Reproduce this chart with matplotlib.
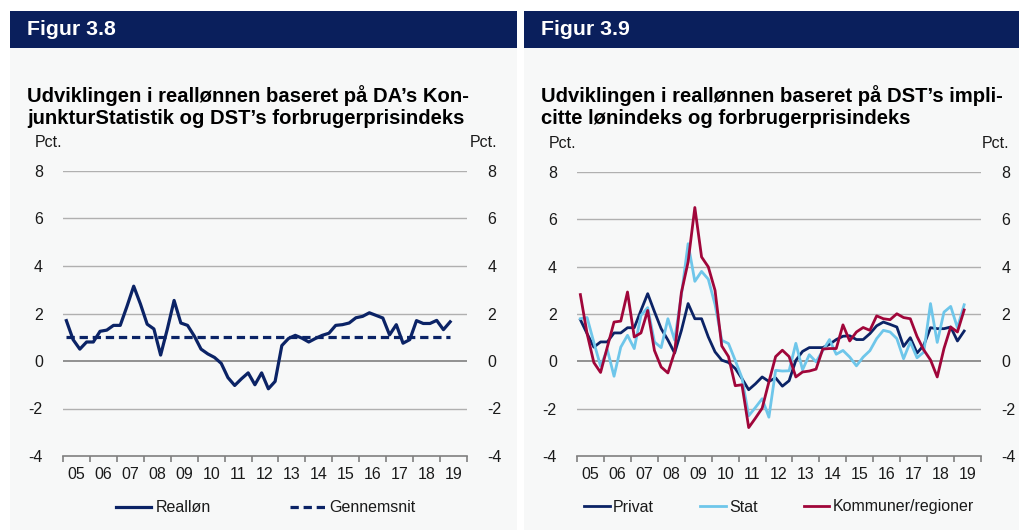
import matplotlib
matplotlib.use("Agg")
import matplotlib.pyplot as plt
from matplotlib.patches import Rectangle
import numpy as np

plt.rcParams['font.family'] = ['Liberation Sans', 'DejaVu Sans']

# ---------------- data (quarterly, 2005Q1 - 2019Q2) ----------------
year_labels = ['05', '06', '07', '08', '09', '10', '11', '12', '13', '14',
               '15', '16', '17', '18', '19']

realloen = [1.7, 0.9, 0.5, 0.8, 0.8, 1.25, 1.3, 1.5, 1.5, 2.3, 3.15, 2.4,
            1.55, 1.35, 0.25, 1.35, 2.55, 1.6, 1.5, 1.05, 0.5, 0.3, 0.15, -0.1,
            -0.7, -1.03, -0.75, -0.5, -1.0, -0.5, -1.17, -0.86, 0.65, 0.95, 1.08, 0.96,
            0.8, 0.95, 1.08, 1.17, 1.5, 1.53, 1.6, 1.82, 1.88, 2.03, 1.92, 1.81,
            1.1, 1.53, 0.75, 0.9, 1.7, 1.58, 1.58, 1.71, 1.32, 1.65]
gennemsnit = 1.0

privat = [1.76, 1.17, 0.6, 0.82, 0.82, 1.2, 1.2, 1.42, 1.42, 2.15, 2.86, 2.1,
          1.38, 0.9, 0.35, 1.3, 2.44, 1.8, 1.8, 1.03, 0.4, 0.05, -0.05, -0.3,
          -0.73, -1.2, -0.95, -0.66, -0.85, -0.7, -1.05, -0.82, 0.04, 0.42, 0.58, 0.58,
          0.58, 0.72, 0.92, 1.06, 1.08, 0.92, 0.92, 1.17, 1.5, 1.66, 1.56, 1.45,
          0.63, 1.0, 0.35, 0.68, 1.42, 1.38, 1.38, 1.45, 0.86, 1.28]
stat = [1.8, 1.85, 0.8, -0.2, 0.5, -0.63, 0.6, 1.1, 0.54, 1.94, 2.27, 0.82,
        0.58, 1.8, 0.9, 2.8, 4.97, 3.38, 3.8, 3.47, 2.4, 0.89, 0.75, 0.04,
        -0.7, -2.3, -1.95, -1.58, -2.36, -0.38, -0.41, -0.4, 0.76, -0.36, 0.28, -0.02,
        0.45, 0.92, 0.3, 0.46, 0.18, -0.19, 0.18, 0.45, 0.96, 1.31, 1.24, 0.96,
        0.11, 0.82, 0.15, 0.39, 2.44, 0.8, 2.08, 2.32, 1.42, 2.39]
kommuner = [2.82, 1.17, -0.05, -0.47, 0.6, 1.66, 1.7, 2.93, 1.03, 1.2, 2.15, 0.46,
            -0.24, -0.49, 0.4, 2.9, 4.2, 6.5, 4.41, 3.99, 3.0, 0.65, 0.2, -1.03,
            -0.99, -2.8, -2.4, -1.98, -0.87, 0.2, 0.47, 0.2, -0.66, -0.45, -0.41, -0.33,
            0.52, 0.54, 0.54, 1.54, 0.86, 1.24, 1.43, 1.31, 1.92, 1.8, 1.76, 2.01,
            1.85, 1.8, 1.05, 0.48, 0.06, -0.66, 0.54, 1.45, 1.24, 2.17]

start_year = 2005
# ---------------------------------------------------------------------

NAVY_HDR = '#0A1F5C'
NAVY = '#0B2366'
LIGHTBLUE = '#6EC6EA'
CRIMSON = '#A0063A'
BG = '#F7F8F8'
GRID = '#B0B0B0'
TXT = '#1A1A1A'
FS = 11.5

W, H = 1020, 531
fig = plt.figure(figsize=(W / 100, H / 100), dpi=100)
fig.patch.set_facecolor('white')


def fx(px):
    return px / W


def fy(py):
    return 1 - py / H


def panel(x0, x1, fig_label, title_lines):
    fig.add_artist(Rectangle((fx(x0), fy(530)), fx(x1 - x0), (530 - 47.5) / H,
                             transform=fig.transFigure, facecolor=BG,
                             edgecolor='none', zorder=0))
    fig.add_artist(Rectangle((fx(x0), fy(47.5)), fx(x1 - x0), (47.5 - 11) / H,
                             transform=fig.transFigure, facecolor=NAVY_HDR,
                             edgecolor='none', zorder=0))
    fig.text(fx(x0 + 17), fy(29.5), fig_label, color='white', fontsize=15.3,
             fontweight='bold', va='center', ha='left')
    fig.text(fx(x0 + 17), fy(102), title_lines[0], color='black', fontsize=14.6,
             fontweight='bold', va='baseline', ha='left')
    fig.text(fx(x0 + 17), fy(124.5), title_lines[1], color='black', fontsize=14.6,
             fontweight='bold', va='baseline', ha='left')


def setup_axes(ax_left_px, ax_top_px):
    ax = fig.add_axes([fx(ax_left_px), fy(456), fx(404), (456 - ax_top_px) / H])
    ax.set_facecolor('none')
    ax.set_xlim(start_year, start_year + len(year_labels))
    ax.set_ylim(-4, 8)
    ax.set_yticks(np.arange(-4, 9, 2))
    ax.set_yticklabels([str(v) for v in range(-4, 9, 2)])
    ax.tick_params(axis='y', left=False, right=False, labelleft=True,
                   labelright=True, labelsize=FS, pad=11, colors=TXT)
    for v in range(-2, 9, 2):
        ax.axhline(v, color=GRID if v != 0 else '#7F7F7F',
                   lw=1.0 if v != 0 else 1.2, zorder=1)
    for s in ['left', 'right', 'top']:
        ax.spines[s].set_visible(False)
    ax.spines['bottom'].set_color('#7F7F7F')
    ax.spines['bottom'].set_linewidth(1.2)
    yrs = np.arange(start_year, start_year + len(year_labels) + 1)
    ax.set_xticks(yrs)
    ax.set_xticklabels([''] * len(yrs))
    ax.set_xticks(np.arange(len(year_labels)) + start_year + 0.5, minor=True)
    ax.set_xticklabels(year_labels, minor=True)
    ax.tick_params(axis='x', which='major', direction='out', length=4,
                   color='#7F7F7F', width=1.2)
    ax.tick_params(axis='x', which='minor', length=0, labelsize=FS, pad=8,
                   colors=TXT)
    return ax


def qx(n):
    return start_year + np.arange(n) / 4 + 0.125


# ---------------- left panel ----------------
panel(10, 517, 'Figur 3.8',
      ['Udviklingen i reallønnen baseret på DA’s Kon-',
       'junkturStatistik og DST’s forbrugerprisindeks'])
ax1 = setup_axes(63, 171)
x1 = qx(len(realloen))
ax1.plot(x1, realloen, color=NAVY, lw=2.3, label='Realløn', zorder=3)
ax1.plot(x1, [gennemsnit] * len(x1), color=NAVY, lw=2.3, ls=(0, (2.6, 1.5)),
         label='Gennemsnit', zorder=3)
fig.text(fx(35), fy(143), 'Pct.', fontsize=FS, ha='left', va='center', color=TXT)
fig.text(fx(497), fy(143), 'Pct.', fontsize=FS, ha='right', va='center', color=TXT)
leg1 = ax1.legend(loc='center', bbox_to_anchor=(fx(266), fy(508)),
                  bbox_transform=fig.transFigure, ncol=2, frameon=False,
                  fontsize=FS, handlelength=2.2, handletextpad=0.25,
                  columnspacing=5.0)
for t in leg1.get_texts():
    t.set_color(TXT)

# ---------------- right panel ----------------
panel(524, 1020, 'Figur 3.9',
      ['Udviklingen i reallønnen baseret på DST’s impli-',
       'citte lønindeks og forbrugerprisindeks'])
ax2 = setup_axes(577, 172)
x2 = qx(len(privat))
ax2.plot(x2, privat, color=NAVY, lw=2.0, label='Privat', zorder=3)
ax2.plot(x2, stat, color=LIGHTBLUE, lw=2.0, label='Stat', zorder=3)
ax2.plot(x2, kommuner, color=CRIMSON, lw=2.0, label='Kommuner/regioner', zorder=4)
fig.text(fx(549), fy(144), 'Pct.', fontsize=FS, ha='left', va='center', color=TXT)
fig.text(fx(1009), fy(144), 'Pct.', fontsize=FS, ha='right', va='center', color=TXT)
leg2 = ax2.legend(loc='center', bbox_to_anchor=(fx(779), fy(507)),
                  bbox_transform=fig.transFigure, ncol=3, frameon=False,
                  fontsize=FS, handlelength=1.6, handletextpad=0.2,
                  columnspacing=2.9)
for t in leg2.get_texts():
    t.set_color(TXT)

fig.savefig('out.png', dpi=100, facecolor='white')
